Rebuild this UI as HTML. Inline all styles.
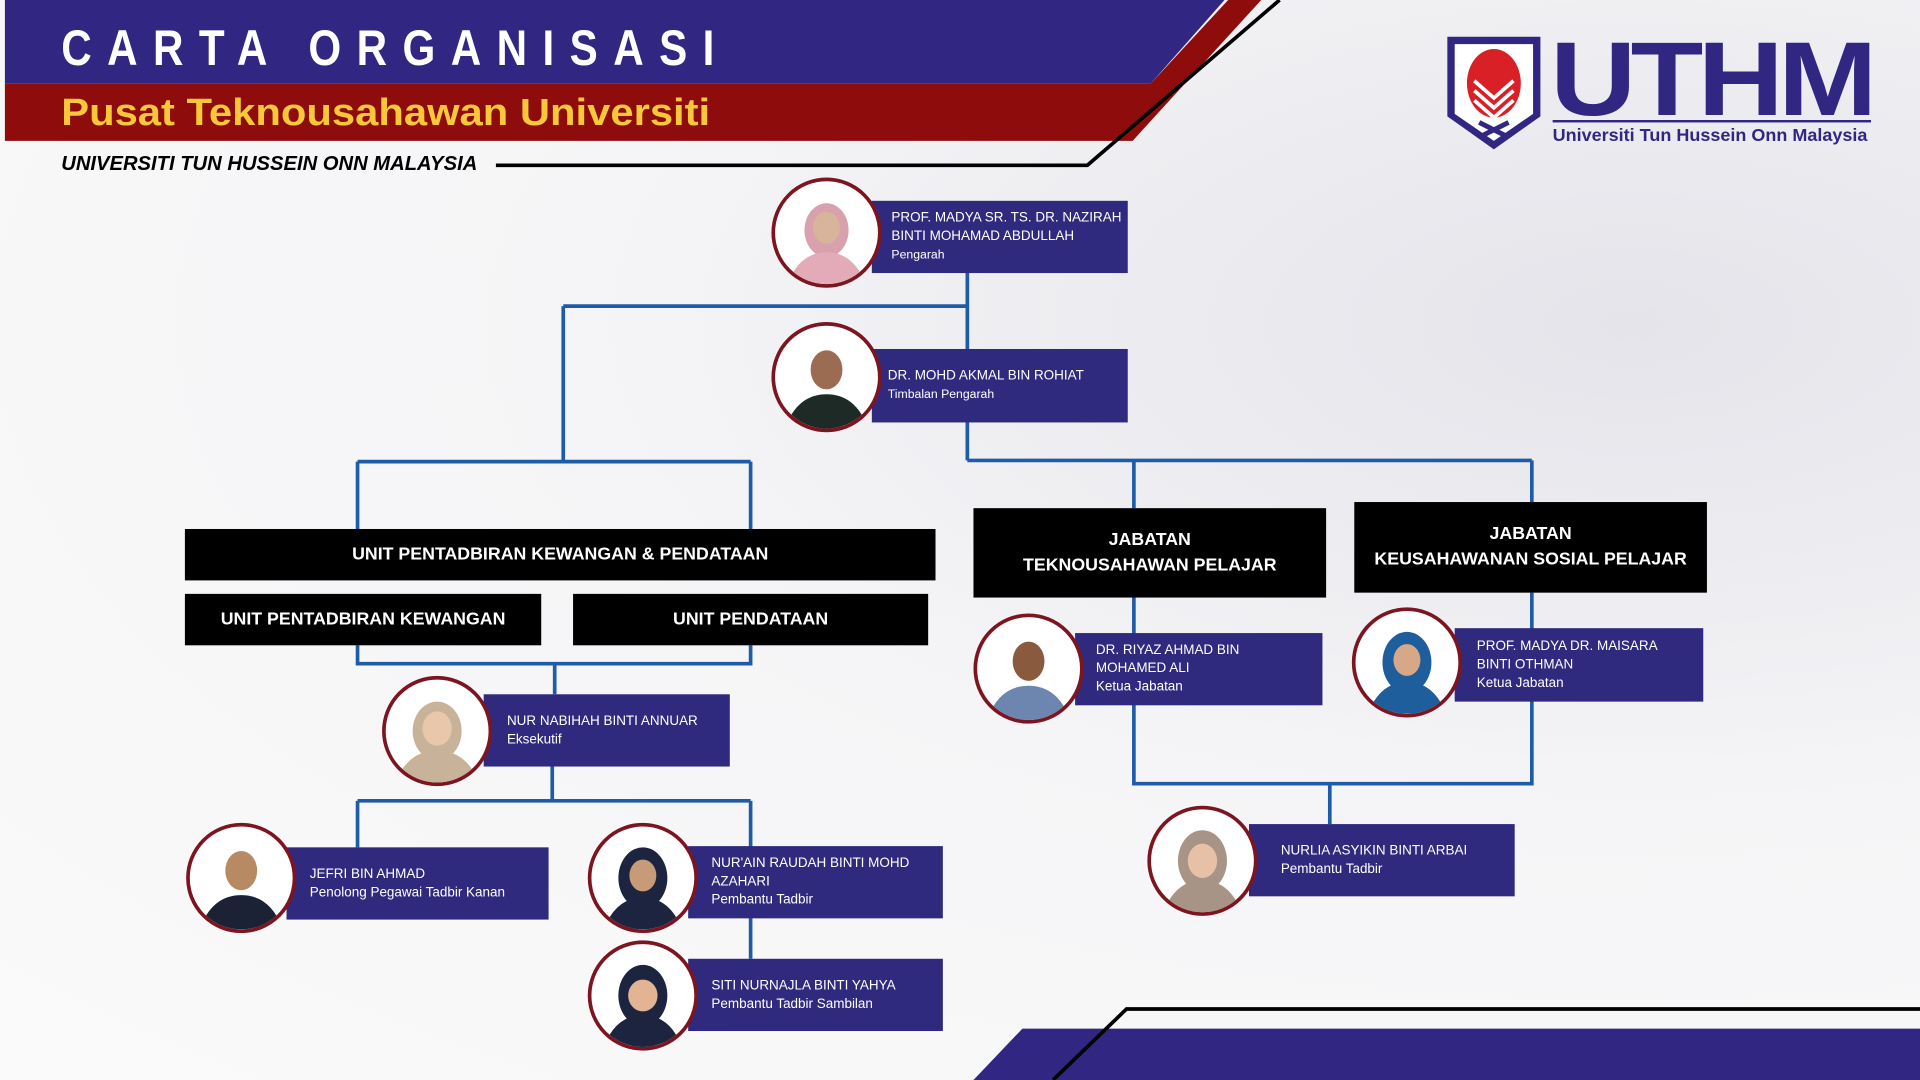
<!DOCTYPE html>
<html><head><meta charset="utf-8">
<style>
html,body{margin:0;padding:0;width:1920px;height:1080px;overflow:hidden;background:#f6f6f8;}
#s{position:absolute;left:0;top:0;width:1568px;height:882px;transform:scale(1.22449);transform-origin:0 0;font-family:"Liberation Sans",sans-serif;background:radial-gradient(ellipse at 85% 30%,#e4e4ea 0%,#f5f5f7 45%,#fafafa 100%);}
.a{position:absolute;}
.bx{position:absolute;background:#2f2a7e;color:#fff;font-size:11px;line-height:15px;box-sizing:border-box;display:flex;flex-direction:column;justify-content:center;}
.bk{position:absolute;background:#000;color:#fff;font-weight:bold;font-size:14.5px;display:flex;align-items:center;justify-content:center;text-align:center;line-height:21px;}
.c{position:absolute;width:84px;height:84px;border-radius:50%;border:3px solid #7d1520;background:#fff;overflow:hidden;}
.c svg{width:100%;height:100%;}
.sm{font-size:10px;}
</style></head><body><div id="s">
<svg class="a" style="left:0;top:0" width="1568" height="882">
<polygon points="4,0 1000,0 940,68 4,68" fill="#312783"/>
<polygon points="4,68 940,68 1003,0 1030,0 925,115 4,115" fill="#8e0c0c"/>
<polyline points="1045,0 888,135 405,135" fill="none" stroke="#000" stroke-width="3"/>
<polygon points="795,882 835,840 1568,840 1568,882" fill="#312783"/>
<polyline points="860,882 920,824 1568,824" fill="none" stroke="#000" stroke-width="3"/>
<g stroke="#1f5ca8" stroke-width="3" fill="none">
<path d="M790 223V376M460 250H790M460 250V377M292 377H613M292 377V432M613 377V432"/>
<path d="M790 376H1251M926 376V415M1251 376V410"/>
<path d="M292 527V542H613V527M453 542V567"/>
<path d="M451 626V654M292 654H613M292 654V692M613 654V783"/>
<path d="M926 488V640H1251V484M1086 640V673"/>
</g>
<path d="M1182 30H1258V95L1220 122L1182 95Z" fill="#312783"/>
<path d="M1188 36H1252V93L1220 115L1188 93Z" fill="#fff"/>
<ellipse cx="1220" cy="68" rx="22" ry="28" fill="#d92027"/>
<path d="M1204 66L1220 80L1236 66M1204 74L1220 88L1236 74M1204 82L1220 96L1236 82" stroke="#fff" stroke-width="3" fill="none"/>
<path d="M1208 100L1232 112M1232 100L1208 112" stroke="#312783" stroke-width="4"/>
<rect x="1268" y="98" width="260" height="2" fill="#312783"/>
</svg>
<div class="a" style="left:50px;top:16px;color:#fff;font-weight:bold;font-size:41px;letter-spacing:15px;transform:scaleX(0.84);transform-origin:0 0;">CARTA ORGANISASI</div>
<div class="a" style="left:50px;top:74px;color:#f8c73a;font-weight:bold;font-size:31px;transform:scaleX(1.1);transform-origin:0 0;">Pusat Teknousahawan Universiti</div>
<div class="a" style="left:50px;top:125px;color:#000;font-weight:bold;font-style:italic;font-size:16.5px;">UNIVERSITI TUN HUSSEIN ONN MALAYSIA</div>
<div class="a" style="left:1266px;top:16px;color:#312783;font-weight:bold;font-size:86px;letter-spacing:-4px;transform:scaleX(1.13);transform-origin:0 0;">UTHM</div>
<div class="a" style="left:1268px;top:102px;color:#312783;font-weight:bold;font-size:14px;transform:scaleX(1.05);transform-origin:0 0;">Universiti Tun Hussein Onn Malaysia</div>

<div class="bk" style="left:151px;top:432px;width:613px;height:42px;">UNIT PENTADBIRAN KEWANGAN &amp; PENDATAAN</div>
<div class="bk" style="left:151px;top:485px;width:291px;height:42px;">UNIT PENTADBIRAN KEWANGAN</div>
<div class="bk" style="left:468px;top:485px;width:290px;height:42px;">UNIT PENDATAAN</div>
<div class="bk" style="left:795px;top:415px;width:288px;height:73px;">JABATAN<br>TEKNOUSAHAWAN PELAJAR</div>
<div class="bk" style="left:1106px;top:410px;width:288px;height:74px;">JABATAN<br>KEUSAHAWANAN SOSIAL PELAJAR</div>

<div class="bx" style="left:712px;top:164px;width:209px;height:59px;padding-left:16px;">PROF. MADYA SR. TS. DR. NAZIRAH<br>BINTI MOHAMAD ABDULLAH<span class="sm">Pengarah</span></div>
<div class="bx" style="left:712px;top:285px;width:209px;height:60px;padding-left:13px;">DR. MOHD AKMAL BIN ROHIAT<span class="sm">Timbalan Pengarah</span></div>
<div class="bx" style="left:395px;top:567px;width:201px;height:59px;padding-left:19px;">NUR NABIHAH BINTI ANNUAR<span>Eksekutif</span></div>
<div class="bx" style="left:234px;top:692px;width:214px;height:59px;padding-left:19px;">JEFRI BIN AHMAD<span>Penolong Pegawai Tadbir Kanan</span></div>
<div class="bx" style="left:562px;top:691px;width:208px;height:59px;padding-left:19px;">NUR'AIN RAUDAH BINTI MOHD<br>AZAHARI<span>Pembantu Tadbir</span></div>
<div class="bx" style="left:562px;top:783px;width:208px;height:59px;padding-left:19px;">SITI NURNAJLA BINTI YAHYA<span>Pembantu Tadbir Sambilan</span></div>
<div class="bx" style="left:878px;top:517px;width:202px;height:59px;padding-left:17px;">DR. RIYAZ AHMAD BIN<br>MOHAMED ALI<span>Ketua Jabatan</span></div>
<div class="bx" style="left:1188px;top:513px;width:203px;height:60px;padding-left:18px;">PROF. MADYA DR. MAISARA<br>BINTI OTHMAN<span>Ketua Jabatan</span></div>
<div class="bx" style="left:1020px;top:673px;width:217px;height:59px;padding-left:26px;">NURLIA ASYIKIN BINTI ARBAI<span>Pembantu Tadbir</span></div>

<div class="c" style="left:630px;top:145px;"><svg viewBox="0 0 84 84"><ellipse cx="42" cy="40" rx="18" ry="22" fill="#d9a0ae"/><ellipse cx="42" cy="38" rx="11" ry="13" fill="#d8b49a"/><path d="M10 84Q20 58 42 58Q64 58 74 84Z" fill="#e3aab8"/></svg></div>
<div class="c" style="left:630px;top:263px;"><svg viewBox="0 0 84 84"><ellipse cx="42" cy="36" rx="13" ry="16" fill="#9b6c52"/><path d="M8 84Q18 56 42 56Q66 56 76 84Z" fill="#1e2a26"/></svg></div>
<div class="c" style="left:312px;top:552px;"><svg viewBox="0 0 84 84"><ellipse cx="42" cy="42" rx="20" ry="24" fill="#c9b29a"/><ellipse cx="42" cy="40" rx="12" ry="14" fill="#e9c7aa"/><path d="M8 84Q18 58 42 58Q66 58 76 84Z" fill="#c9b29a"/></svg></div>
<div class="c" style="left:152px;top:672px;"><svg viewBox="0 0 84 84"><ellipse cx="42" cy="36" rx="13" ry="16" fill="#b88a64"/><path d="M8 84Q18 56 42 56Q66 56 76 84Z" fill="#1c2236"/></svg></div>
<div class="c" style="left:480px;top:672px;"><svg viewBox="0 0 84 84"><ellipse cx="42" cy="42" rx="20" ry="25" fill="#1d2440"/><ellipse cx="42" cy="40" rx="11" ry="13" fill="#c79a78"/><path d="M10 84Q20 58 42 58Q64 58 74 84Z" fill="#1d2440"/></svg></div>
<div class="c" style="left:480px;top:768px;"><svg viewBox="0 0 84 84"><ellipse cx="42" cy="42" rx="20" ry="25" fill="#1d2440"/><ellipse cx="42" cy="42" rx="12" ry="13" fill="#e2b494"/><path d="M10 84Q20 58 42 58Q64 58 74 84Z" fill="#1d2440"/></svg></div>
<div class="c" style="left:795px;top:501px;"><svg viewBox="0 0 84 84"><ellipse cx="42" cy="36" rx="13" ry="16" fill="#8a5a3e"/><path d="M8 84Q18 56 42 56Q66 56 76 84Z" fill="#6d86b0"/></svg></div>
<div class="c" style="left:1104px;top:496px;"><svg viewBox="0 0 84 84"><ellipse cx="42" cy="42" rx="20" ry="25" fill="#1e5e9c"/><ellipse cx="42" cy="40" rx="11" ry="13" fill="#d6a888"/><path d="M10 84Q20 58 42 58Q64 58 74 84Z" fill="#1e5e9c"/></svg></div>
<div class="c" style="left:937px;top:658px;"><svg viewBox="0 0 84 84"><ellipse cx="42" cy="42" rx="20" ry="25" fill="#a89486"/><ellipse cx="42" cy="42" rx="12" ry="14" fill="#e6c1a6"/><path d="M10 84Q20 58 42 58Q64 58 74 84Z" fill="#a89486"/></svg></div>
</div></body></html>
